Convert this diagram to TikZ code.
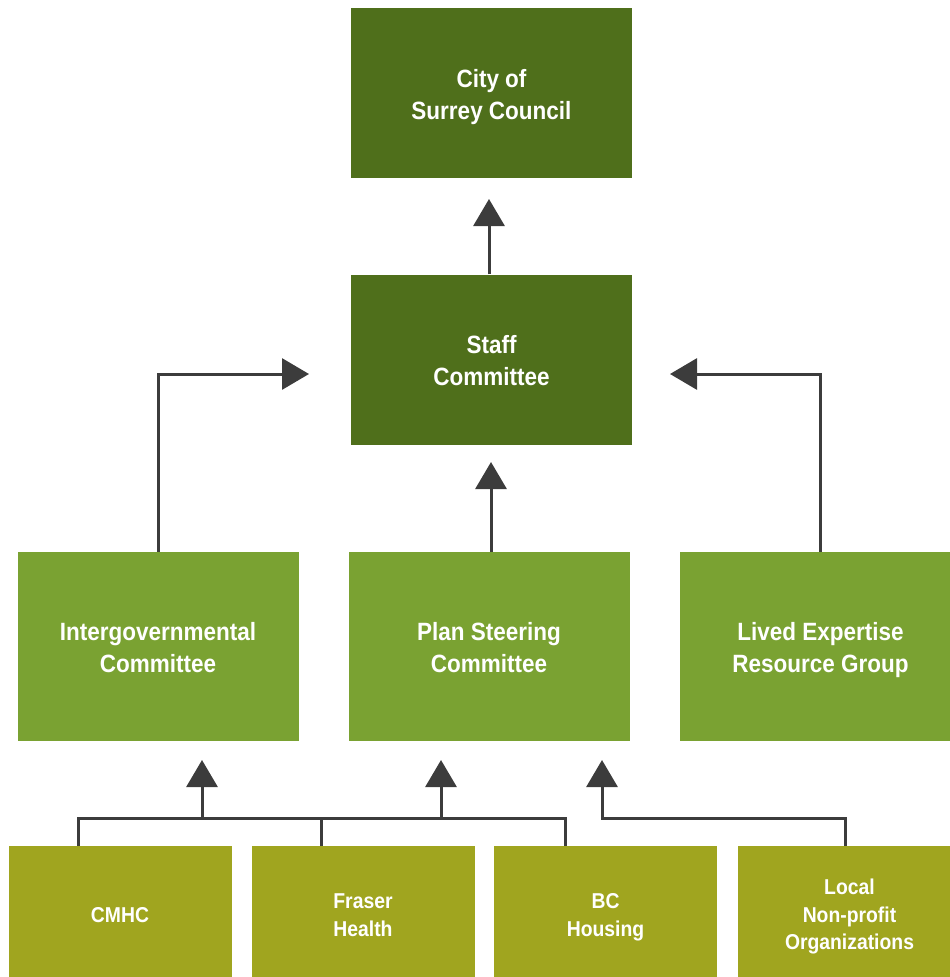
\documentclass[tikz,border=0pt]{standalone}
\usepackage{fontspec}
\setmainfont{Liberation Sans}[FakeStretch=0.9]
\usetikzlibrary{arrows.meta}
\definecolor{topgreen}{HTML}{4F6F1B}
\definecolor{midgreen}{HTML}{7AA232}
\definecolor{botgreen}{HTML}{A0A51F}
\definecolor{linegray}{HTML}{3C3C3C}
\newcommand{\bigtop}{\rule{0pt}{30.5pt}}
\newcommand{\smalltop}{\rule{0pt}{30pt}}
\tikzset{
  topbox/.style={fill=topgreen, text=white, minimum width=281pt, minimum height=170pt, inner sep=0pt, align=center, font=\bfseries\fontsize{25}{32}\selectfont},
  midbox/.style={fill=midgreen, text=white, minimum width=281pt, minimum height=189pt, inner sep=0pt, align=center, font=\bfseries\fontsize{25}{32}\selectfont},
  botbox/.style={fill=botgreen, text=white, minimum width=223pt, minimum height=131pt, inner sep=0pt, align=center, font=\bfseries\fontsize{21.5}{27.5}\selectfont},
  conn/.style={draw=linegray, line width=3pt},
  arr/.style={conn, -{Triangle[width=31pt,length=27pt]}}
}
\begin{document}
\begin{tikzpicture}[x=1pt,y=-1pt]
\useasboundingbox (0,0) rectangle (950,977);
\clip (0,0) rectangle (950,977);
\node[topbox] (city) at (491.5,93) {\bigtop City of\\Surrey Council\strut};
\node[topbox] (staff) at (491.5,359.5) {\bigtop Staff\\Committee\strut};
\node[midbox] (inter) at (158,646.5) {\bigtop Intergovernmental\\Committee\strut};
\node[midbox] (plan) at (489,646.5) {\bigtop Plan Steering\\Committee\strut};
\node[midbox] (lived) at (820.5,646.5) {\bigtop Lived Expertise\\Resource Group\strut};
\node[botbox] (cmhc) at (120,911.5) {\smalltop CMHC\strut};
\node[botbox] (fraser) at (363,911.5) {\smalltop Fraser\\Health\strut};
\node[botbox] (bc) at (605.5,911.5) {\smalltop BC\\Housing\strut};
\node[botbox] (local) at (849.5,911.5) {\smalltop Local\\Non-profit\\Organizations\strut};
% upper arrows
\coordinate (tc) at (489,199);
\coordinate (tl) at (309,374);
\coordinate (tr) at (670,374);
\coordinate (tp) at (491,462);
\draw[arr] (tc |- staff.north) -- (tc);
\draw[arr] (inter.north) |- (tl);
\draw[arr] (lived.north) |- (tr);
\draw[arr] (tp |- plan.north) -- (tp);
% bottom bus
\coordinate (b1) at (78.5,818);
\coordinate (b2) at (321,818);
\coordinate (b3) at (565,818);
\coordinate (b4) at (845,818);
\coordinate (t1) at (202,760);
\coordinate (t2) at (441,760);
\coordinate (t3) at (602,760);
\draw[conn] (b1 |- cmhc.north) -- (b1) -- (b3) -- (b3 |- bc.north);
\draw[conn] (b2 |- fraser.north) -- (b2);
\draw[arr] (t1 |- b1) -- (t1);
\draw[arr] (t2 |- b1) -- (t2);
\draw[arr] (b4 |- local.north) -- (b4) -| (t3);
\end{tikzpicture}
\end{document}
